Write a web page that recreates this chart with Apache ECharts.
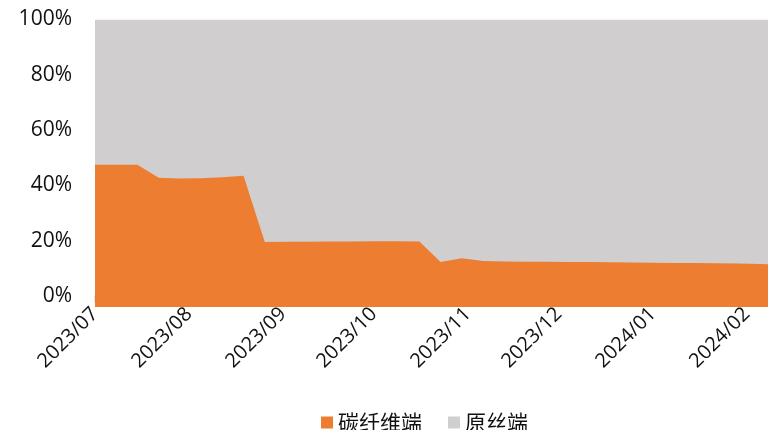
<!DOCTYPE html>
<html>
<head>
<meta charset="utf-8">
<script src="https://cdn.jsdelivr.net/npm/echarts@6/dist/echarts.min.js"></script>
<style>
html,body{margin:0;padding:0;background:#fff;}
#chart{width:768px;height:430px;}
</style>
</head>
<body>
<div id="chart"></div>
<script>
// Dates of observations (yyyy-mm-dd)
var dates = [
  '2023-07-01','2023-07-08','2023-07-15','2023-07-22','2023-07-29','2023-08-05','2023-08-12','2023-08-19',
  '2023-08-26','2023-09-02','2023-09-09','2023-09-16','2023-09-23','2023-10-02','2023-10-09','2023-10-16',
  '2023-10-23','2023-10-30','2023-11-06','2023-11-13','2023-11-20','2023-11-27','2023-12-04','2023-12-11',
  '2023-12-18','2023-12-25','2024-01-01','2024-01-08','2024-01-15','2024-01-22','2024-01-29','2024-02-05','2024-02-08'
];
// Share of carbon-fibre end (碳纤维端), percent
var carbonShare = [
  47.5, 47.5, 47.5, 42.8, 42.5, 42.6, 42.9, 43.5,
  19.5, 19.6, 19.6, 19.7, 19.7, 19.8, 19.8, 19.7,
  12.3, 13.6, 12.6, 12.5, 12.4, 12.4, 12.3, 12.3,
  12.2, 12.1, 12.0, 11.9, 11.9, 11.8, 11.7, 11.6, 11.5
];
// Share of precursor end (原丝端), percent
var precursorShare = carbonShare.map(function(v){ return 100 - v; });
// Month tick labels
var monthTicks = ['2023-07-01','2023-08-01','2023-09-01','2023-10-01','2023-11-01','2023-12-01','2024-01-01','2024-02-01'];
var yTicks = [0, 20, 40, 60, 80, 100];
var seriesNames = ['碳纤维端', '原丝端'];

function toTime(s){ var p = s.split('-'); return new Date(+p[0], +p[1]-1, +p[2]).getTime(); }

// 100% stacked: carbon at the bottom, precursor stacked on top of it
var carbonData = dates.map(function(d, i){ return [toTime(d), carbonShare[i] / 100]; });
var stackedTopData = dates.map(function(d, i){ return [toTime(d), (carbonShare[i] + precursorShare[i]) / 100]; });
var monthTickTimes = monthTicks.map(toTime);

var chart = echarts.init(document.getElementById('chart'));
chart.setOption({
  animation: false,
  grid: { left: 95, right: 0, top: 19.5, bottom: 123, containLabel: false },
  legend: {
    data: seriesNames,
    left: 316, top: 407,
    itemWidth: 12, itemHeight: 12, itemGap: 26,
    icon: 'rect',
    textStyle: { fontSize: 21, color: '#111', fontFamily: 'Noto Sans CJK SC' }
  },
  xAxis: {
    type: 'value',
    min: toTime('2023-07-01'),
    max: toTime('2024-02-08'),
    axisLine: { show: true, lineStyle: { color: '#D9D9D9', width: 1.5 } },
    axisTick: { show: true, length: 6, lineStyle: { color: '#D9D9D9', width: 1.5 },
      customValues: monthTickTimes },
    axisLabel: {
      customValues: monthTickTimes,
      rotate: 45, margin: 4,
      fontSize: 20, color: '#111', fontFamily: 'Open Sans',
      formatter: function(v){ var d = new Date(v); var m = d.getMonth()+1; return d.getFullYear() + '/' + (m < 10 ? '0' + m : m); }
    },
    splitLine: { show: false }
  },
  yAxis: {
    type: 'value',
    min: -0.04, max: 1,
    axisLine: { show: false },
    axisTick: { show: false },
    splitLine: { show: false },
    axisLabel: {
      customValues: yTicks.map(function(t){ return t / 100; }),
      fontSize: 21, color: '#111', fontFamily: 'Open Sans', margin: 23,
      formatter: function(v){ return Math.round(v * 100) + '%'; }
    }
  },
  series: [
    {
      name: seriesNames[1], type: 'line', data: stackedTopData,
      symbol: 'none', lineStyle: { width: 0 },
      itemStyle: { color: '#D0CECE' },
      areaStyle: { color: '#D0CECE', opacity: 1, origin: 'start' },
      z: 1
    },
    {
      name: seriesNames[0], type: 'line', data: carbonData,
      symbol: 'none', lineStyle: { width: 0 },
      itemStyle: { color: '#ED7D31' },
      areaStyle: { color: '#ED7D31', opacity: 1, origin: 'start' },
      z: 2
    }
  ]
});
</script>
</body>
</html>
